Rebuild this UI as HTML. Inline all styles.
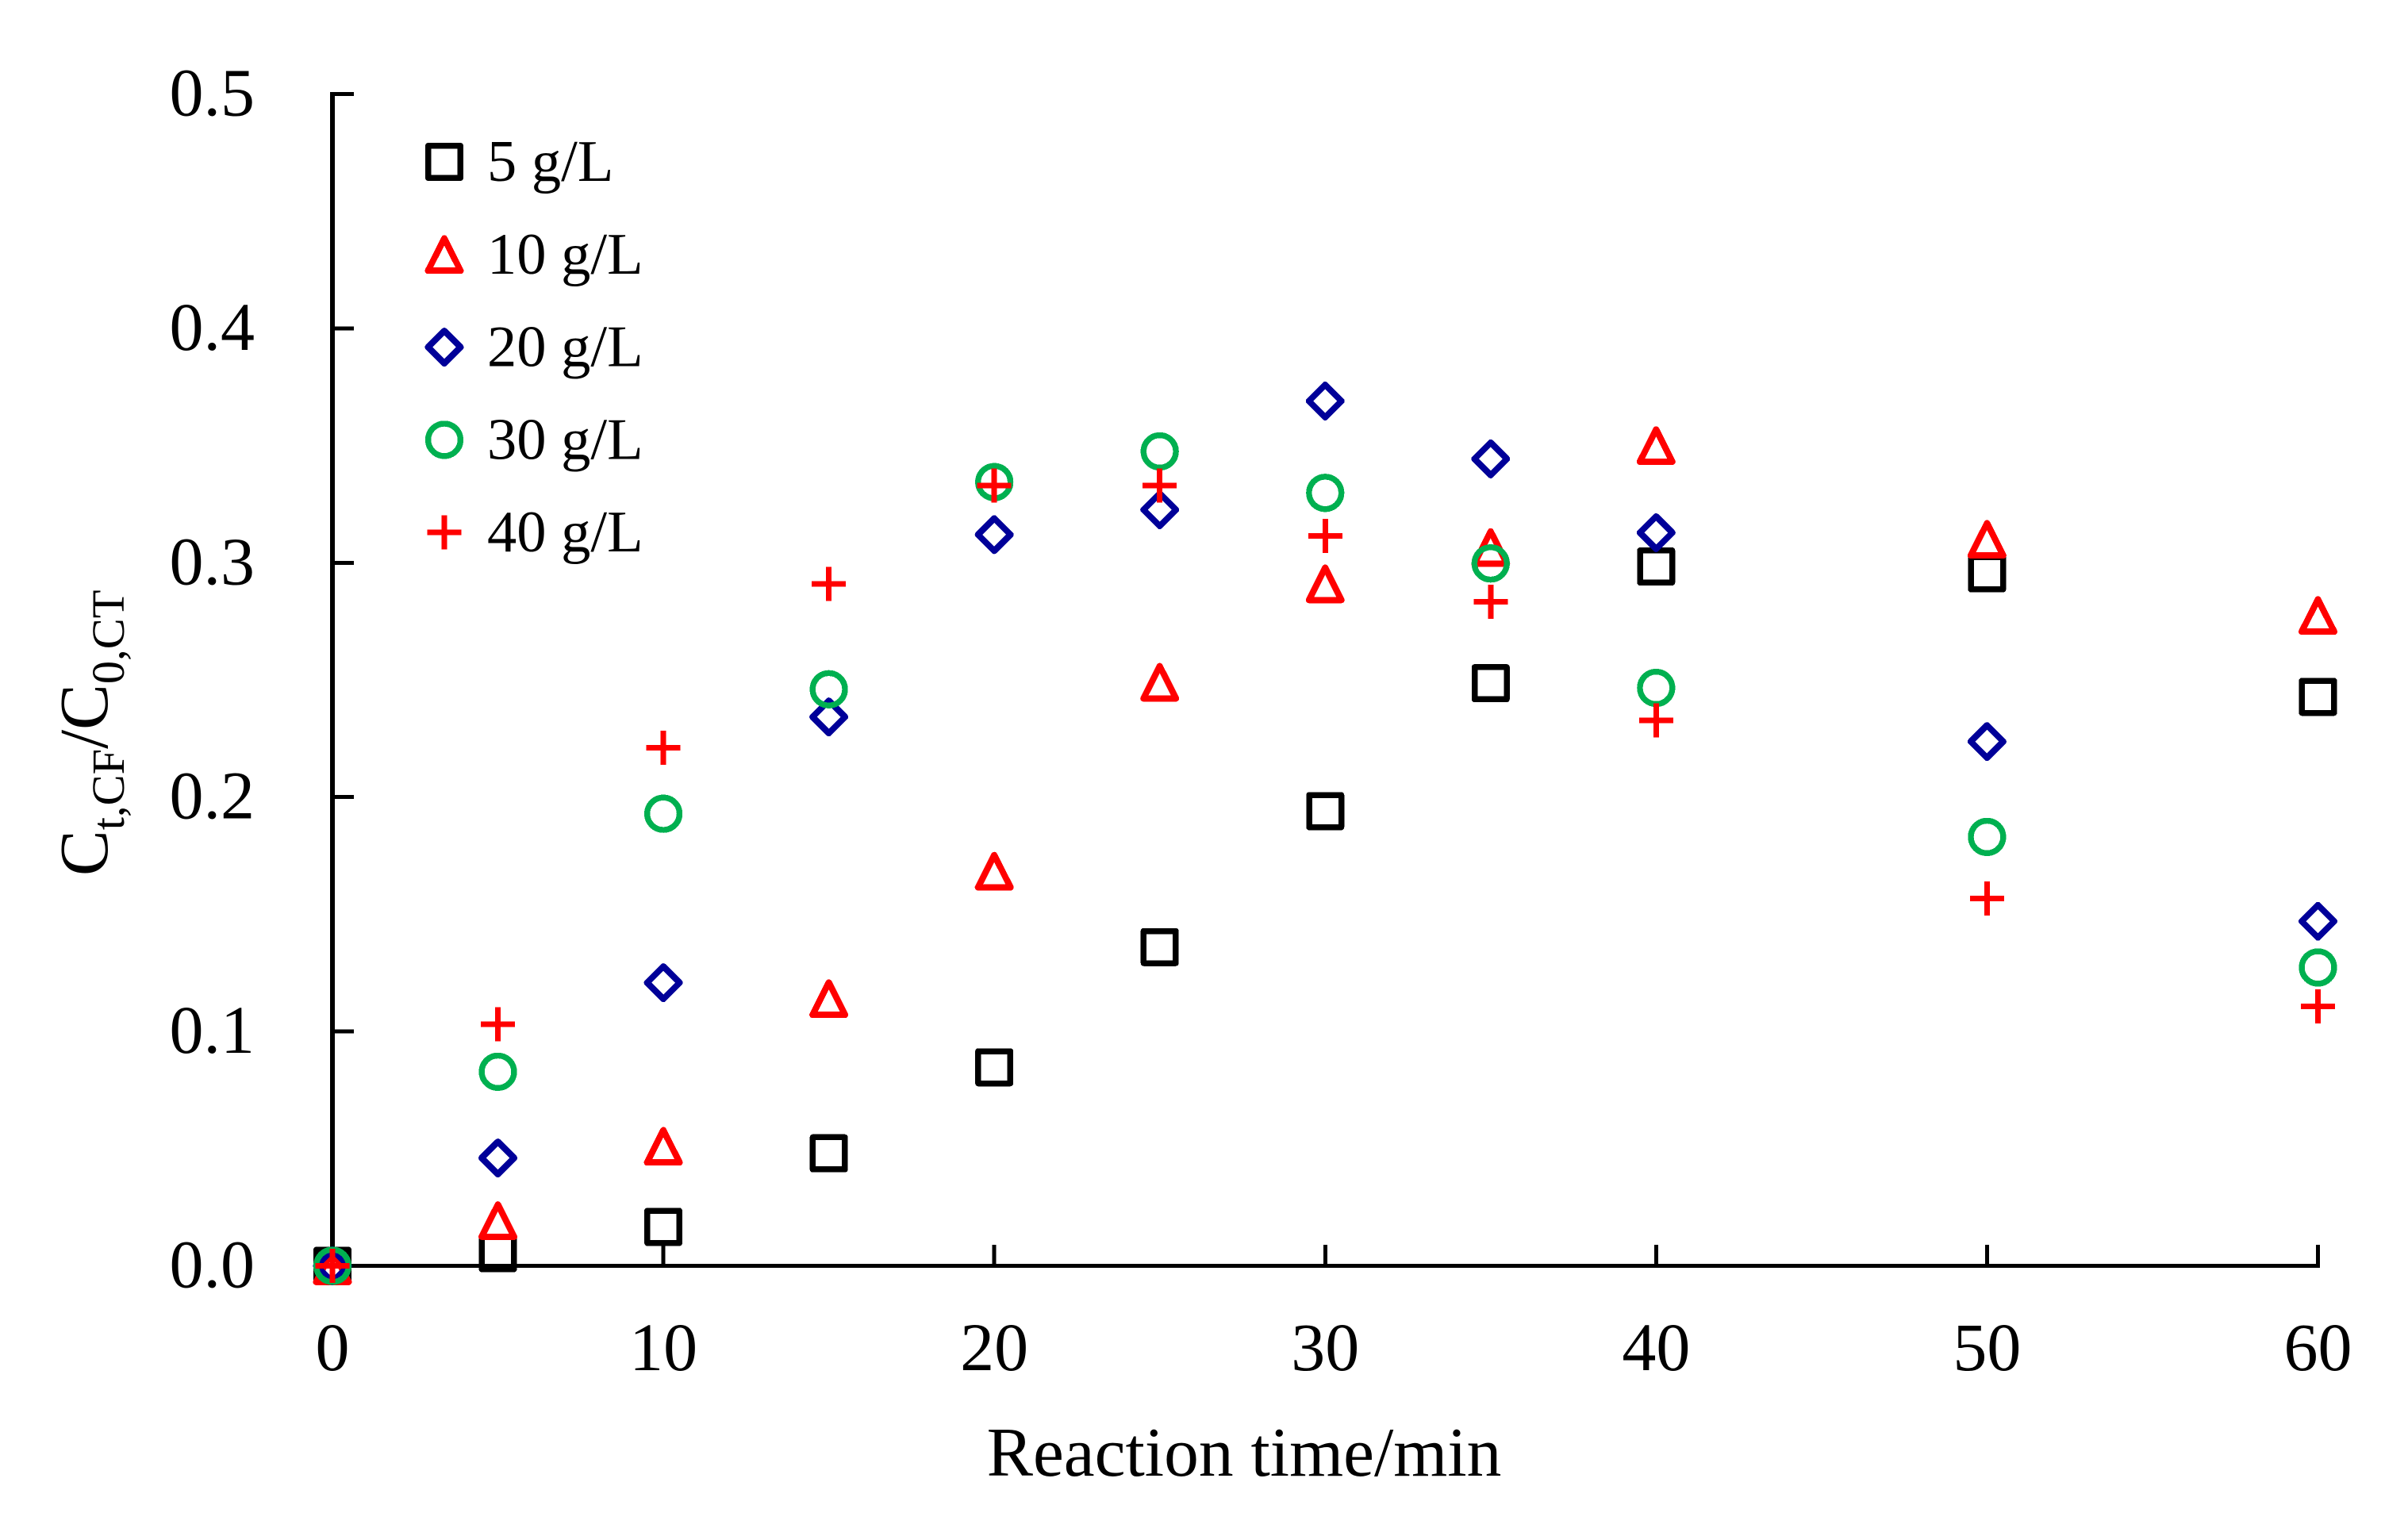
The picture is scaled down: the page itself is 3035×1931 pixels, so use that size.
<!DOCTYPE html>
<html lang="en">
<head>
<meta charset="utf-8">
<title>Ct,CF/C0,CT vs reaction time</title>
<style>
html,body{margin:0;padding:0;background:#fff;width:3035px;height:1931px;overflow:hidden}
svg{display:block}
text{font-family:"Liberation Serif","Times New Roman",serif;fill:#000}
</style>
</head>
<body>
<svg id="chart" xmlns="http://www.w3.org/2000/svg" width="3035" height="1931" viewBox="0 0 3035 1931">
  <rect x="0" y="0" width="3035" height="1931" fill="#ffffff"/>
  <g id="axes" shape-rendering="crispEdges"></g>
  <text x="1568" y="1860" font-size="87.5" text-anchor="middle">Reaction time/min</text>
  <text transform="translate(135,1104) rotate(-90)" font-size="86.5">C<tspan font-size="58.5" dy="21">t,CF</tspan><tspan dy="-21">/C</tspan><tspan font-size="58.5" dy="21">0,CT</tspan></text>
  <g id="marks" shape-rendering="crispEdges"></g>
  <g id="legend"></g>
</svg>
<script>
const times = [0, 5, 10, 15, 20, 25, 30, 35, 40, 50, 60];
const values5 = [0, 0.0054, 0.0166, 0.048, 0.0847, 0.136, 0.194, 0.2486, 0.2984, 0.2955, 0.2428];
const values10 = [0, 0.0193, 0.051, 0.114, 0.1684, 0.249, 0.291, 0.3065, 0.35, 0.31, 0.2775];
const values20 = [0, 0.046, 0.1208, 0.2342, 0.312, 0.3226, 0.369, 0.3443, 0.3128, 0.2237, 0.147];
const values30 = [0, 0.0828, 0.1929, 0.246, 0.3344, 0.3475, 0.3298, 0.2997, 0.2466, 0.183, 0.1273];
const values40 = [0, 0.103, 0.221, 0.291, 0.333, 0.333, 0.3115, 0.2833, 0.2328, 0.1568, 0.1107];
const xTicks = [0, 10, 20, 30, 40, 50, 60];
const yTicks = [0, 0.1, 0.2, 0.3, 0.4, 0.5];
const legendLabels = ['5 g/L', '10 g/L', '20 g/L', '30 g/L', '40 g/L'];

const NS = 'http://www.w3.org/2000/svg';
function xPos(t) { return 419 + (t / 60) * 2502.5; }
function yPos(v) { return 1595.5 - (v / 0.5) * 1477; }

function make(tag, attrs, parent) {
  const el = document.createElementNS(NS, tag);
  for (const k in attrs) el.setAttribute(k, attrs[k]);
  parent.appendChild(el);
  return el;
}

function drawMarker(kind, cx, cy, parent) {
  if (kind === 'square') {
    return make('rect', { x: cx - 20.25, y: cy - 20.25, width: 40.5, height: 40.5, fill: 'none', stroke: '#000000', 'stroke-width': 7.5, 'stroke-linejoin': 'round' }, parent);
  }
  if (kind === 'triangle') {
    return make('polygon', { points: (cx) + ',' + (cy - 20.3) + ' ' + (cx + 20.5) + ',' + (cy + 20.4) + ' ' + (cx - 20.5) + ',' + (cy + 20.4), fill: 'none', stroke: '#ff0000', 'stroke-width': 8, 'stroke-linejoin': 'round' }, parent);
  }
  if (kind === 'diamond') {
    return make('polygon', { points: cx + ',' + (cy - 20.5) + ' ' + (cx + 20.5) + ',' + cy + ' ' + cx + ',' + (cy + 20.5) + ' ' + (cx - 20.5) + ',' + cy, fill: 'none', stroke: '#000099', 'stroke-width': 8, 'stroke-linejoin': 'round' }, parent);
  }
  if (kind === 'circle') {
    return make('circle', { cx: cx, cy: cy, r: 20.4, fill: 'none', stroke: '#00b050', 'stroke-width': 7.4 }, parent);
  }
  return make('path', { d: 'M' + (cx - 21.5) + ' ' + cy + 'H' + (cx + 21.5) + 'M' + cx + ' ' + (cy - 21.5) + 'V' + (cy + 21.5), fill: 'none', stroke: '#ff0000', 'stroke-width': 7 }, parent);
}

const axes = document.getElementById('axes');
const marks = document.getElementById('marks');
const legend = document.getElementById('legend');

const yLine = make('line', { x1: xPos(0), y1: yPos(0.5) - 2.5, x2: xPos(0), y2: yPos(0) + 2.5, stroke: '#000', 'stroke-width': 6 }, axes);


const xLine = make('line', { x1: xPos(0), y1: yPos(0), x2: xPos(60) + 2.5, y2: yPos(0), stroke: '#000', 'stroke-width': 5 }, axes);



xTicks.forEach(function (t) {
  const tick = make('line', { x1: xPos(t), y1: yPos(0), x2: xPos(t), y2: yPos(0) - 26.5, stroke: '#000', 'stroke-width': 5 }, axes);
  
  
  const label = make('text', { x: xPos(t), y: 1727, 'font-size': 86, 'text-anchor': 'middle' }, axes);
  
  
  label.textContent = String(t);
});

yTicks.forEach(function (v) {
  const tick = make('line', { x1: xPos(0), y1: yPos(v), x2: xPos(0) + 27, y2: yPos(v), stroke: '#000', 'stroke-width': 5 }, axes);
  
  
  const label = make('text', { x: 321, y: yPos(v) + 27, 'font-size': 86, 'text-anchor': 'end' }, axes);
  
  
  label.textContent = v.toFixed(1);
});

function drawSeries(values, kind, index) {
  const group = make('g', {}, marks);
  
  
  values.forEach(function (v, i) {
    const m = drawMarker(kind, xPos(times[i]), yPos(v), group);
    
    
  });
  const cy = 204 + index * 116.8;
  const key = drawMarker(kind, 560, cy, legend);
  key.setAttribute('shape-rendering', 'crispEdges');
  
  
  const text = make('text', { x: 614, y: cy + 24, 'font-size': 74.5 }, legend);
  
  
  text.textContent = legendLabels[index];
}

drawSeries(values5, 'square', 0);
drawSeries(values10, 'triangle', 1);
drawSeries(values20, 'diamond', 2);
drawSeries(values30, 'circle', 3);
drawSeries(values40, 'plus', 4);
</script>
</body>
</html>
